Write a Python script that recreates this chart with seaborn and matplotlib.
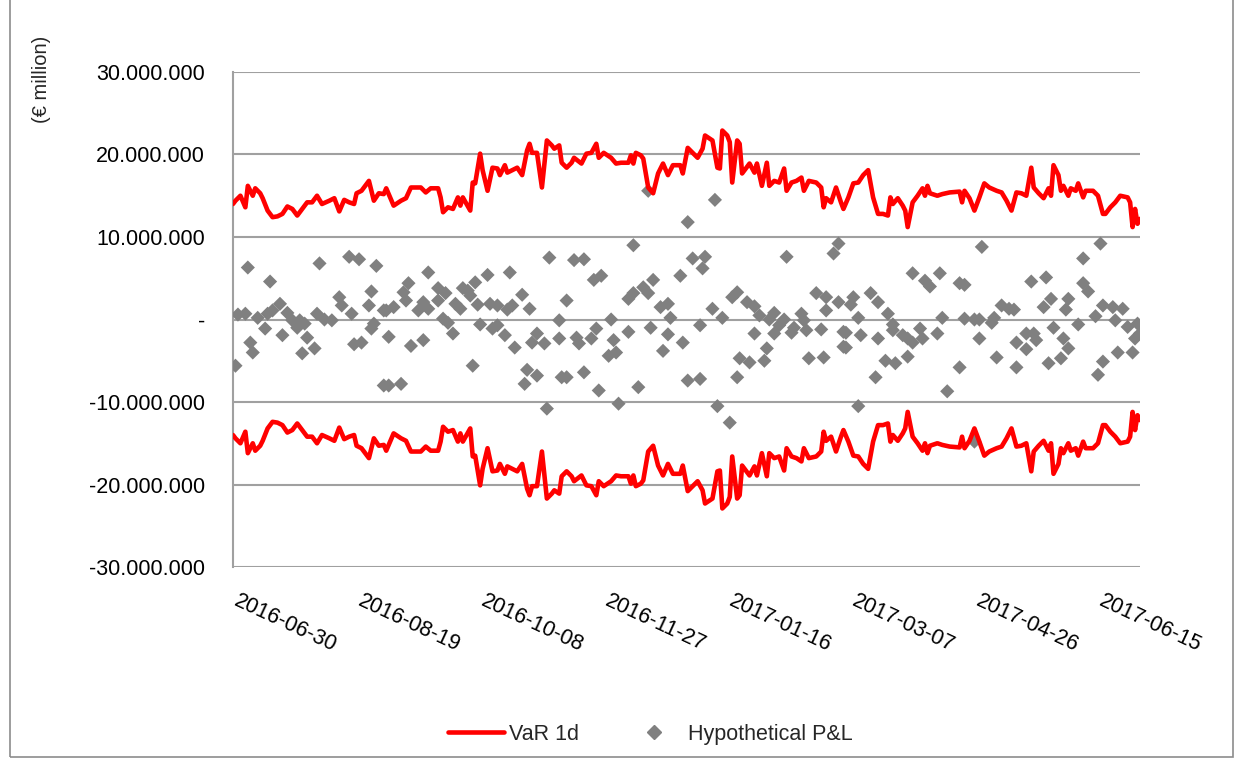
import pandas as pd
import matplotlib
matplotlib.use('Agg')
import matplotlib.pyplot as plt
import seaborn as sns
from matplotlib.lines import Line2D
from matplotlib.patches import Rectangle
from matplotlib.ticker import FuncFormatter
from matplotlib.transforms import ScaledTranslation

# VaR 1d (EUR million), day offsets from 2016-06-30
var_days = [0, 1, 3, 5, 6, 8, 9, 11, 12, 14, 16, 18, 20, 22, 24, 26, 28, 30, 32, 34,
            36, 39, 41, 43, 45, 47, 49, 50, 52, 55, 57, 59, 61, 62, 65, 68, 70, 72, 76, 78,
            80, 83, 84, 85, 87, 89, 91, 92, 93, 96, 97, 98, 100, 101, 103, 105, 107, 108, 110, 111,
            113, 115, 117, 119, 120, 121, 123, 125, 127, 129, 130, 132, 133, 135, 137, 138, 141, 143, 145, 147,
            148, 150, 153, 155, 157, 160, 161, 162, 163, 165, 166, 168, 170, 172, 174, 176, 178, 181, 182, 184,
            186, 188, 190, 191, 194, 196, 197, 198, 200, 201, 202, 204, 205, 206, 209, 211, 212, 214, 216, 217,
            219, 221, 223, 224, 226, 228, 230, 231, 233, 236, 238, 239, 240, 242, 244, 246, 247, 249, 251, 253,
            255, 257, 259, 261, 263, 265, 266, 267, 269, 271, 272, 273, 275, 277, 279, 280, 281, 282, 285, 287,
            290, 294, 295, 296, 298, 300, 302, 304, 306, 309, 311, 313, 315, 317, 319, 321, 323, 324, 326, 328,
            330, 331, 332, 334, 335, 336, 338, 339, 341, 342, 344, 345, 348, 350, 352, 353, 355, 357, 359, 362,
            363, 364, 365, 366, 367]
var_values = [14.0, 14.4, 15.0, 13.6, 16.2, 15.0, 15.9, 15.3, 14.7, 13.2, 12.4, 12.5, 12.8, 13.7, 13.4, 12.6, 13.4, 14.2, 14.2, 15.0,
              14.0, 14.4, 14.7, 13.1, 14.5, 14.2, 14.0, 15.3, 15.6, 16.8, 14.4, 15.3, 15.2, 15.9, 13.8, 14.4, 14.7, 16.0, 16.0, 15.4,
              15.9, 15.9, 14.8, 13.0, 13.6, 13.4, 14.8, 13.8, 14.8, 13.2, 16.6, 16.5, 20.1, 18.1, 15.6, 18.4, 18.3, 17.5, 18.7, 17.8,
              18.1, 18.4, 17.5, 20.5, 21.3, 20.2, 20.2, 16.0, 21.7, 21.1, 20.7, 21.1, 19.0, 18.4, 19.0, 19.6, 18.9, 20.1, 20.2, 21.3,
              19.6, 20.2, 19.6, 18.9, 19.0, 19.0, 19.9, 18.9, 20.2, 19.9, 19.5, 16.0, 15.3, 17.7, 18.9, 17.5, 18.7, 18.7, 17.7, 20.8,
              20.2, 19.6, 20.7, 22.3, 21.7, 18.4, 18.3, 22.9, 22.3, 21.5, 16.6, 21.7, 21.3, 17.7, 18.9, 17.8, 18.9, 16.2, 19.0, 16.2,
              16.8, 16.6, 18.3, 15.6, 16.6, 16.8, 17.2, 15.6, 16.8, 16.6, 16.0, 13.6, 14.7, 14.2, 16.0, 14.2, 13.4, 14.8, 16.5, 16.6,
              17.5, 18.1, 14.8, 12.8, 12.8, 12.6, 14.8, 14.0, 14.7, 13.8, 13.2, 11.2, 14.2, 15.0, 15.9, 15.0, 16.2, 15.3, 15.0, 15.2,
              15.4, 15.5, 14.2, 15.6, 14.7, 13.2, 14.8, 16.5, 16.0, 15.6, 15.4, 14.4, 13.2, 15.4, 15.3, 15.0, 18.4, 16.0, 15.3, 14.7,
              15.9, 15.0, 18.7, 17.5, 15.6, 16.2, 15.0, 15.9, 15.6, 16.5, 14.8, 15.6, 15.6, 15.0, 12.8, 12.8, 13.6, 14.2, 15.0, 14.8,
              14.2, 11.2, 13.4, 11.6, 12.2]

# Hypothetical P&L (EUR million), day offsets from 2016-06-30
pl_days = [1, 2, 5, 6, 7, 8, 10, 13, 14, 15, 16, 19, 20, 22, 24, 26, 27, 28, 29, 30,
           33, 34, 35, 37, 40, 43, 44, 47, 48, 49, 51, 52, 55, 56, 56, 57, 58, 61, 61, 62,
           63, 63, 65, 68, 69, 70, 71, 72, 75, 77, 77, 79, 79, 83, 83, 85, 86, 87, 89, 90,
           92, 93, 95, 96, 97, 98, 99, 100, 103, 104, 105, 107, 107, 110, 111, 112, 113, 114, 117, 118,
           119, 120, 121, 123, 123, 126, 127, 128, 132, 132, 133, 135, 135, 138, 139, 140, 142, 142, 145, 146,
           147, 148, 149, 152, 153, 154, 155, 156, 160, 160, 162, 162, 164, 166, 168, 168, 169, 170, 173, 174,
           176, 176, 177, 181, 182, 184, 184, 186, 189, 189, 190, 191, 194, 195, 196, 198, 201, 202, 204, 204,
           205, 208, 209, 211, 211, 213, 215, 216, 217, 219, 219, 221, 223, 224, 226, 227, 230, 231, 232, 233,
           236, 238, 239, 240, 240, 243, 245, 245, 247, 247, 248, 248, 250, 251, 253, 253, 254, 258, 260, 261,
           261, 264, 265, 267, 267, 268, 271, 273, 273, 275, 275, 278, 279, 280, 282, 285, 286, 287, 289, 294,
           294, 296, 296, 300, 300, 302, 302, 303, 307, 308, 309, 311, 314, 316, 317, 317, 321, 321, 323, 324,
           325, 328, 329, 330, 331, 332, 335, 336, 337, 338, 338, 342, 344, 344, 346, 349, 350, 351, 352, 352,
           356, 357, 358, 360, 362, 364, 365, 366, 367]
pl_values = [-5.6, 0.6, 0.7, 6.3, -2.8, -4.0, 0.2, -1.1, 0.7, 4.6, 1.1, 1.9, -1.9, 0.8, -0.1, -1.0, -0.1, -4.1, -0.5, -2.2,
             -3.5, 0.7, 6.8, 0.0, -0.1, 2.7, 1.7, 7.6, 0.7, -3.0, 7.3, -2.8, 1.7, 3.4, -1.1, -0.5, 6.5, 1.1, -8.0, 1.1,
             -2.1, -8.0, 1.5, -7.8, 3.3, 2.3, 4.4, -3.2, 1.1, 2.1, -2.5, 5.7, 1.3, 3.8, 2.3, 0.1, 3.2, -0.4, -1.7, 1.9,
             1.3, 3.8, 3.5, 2.9, -5.6, 4.5, 1.8, -0.6, 5.4, 1.9, -1.1, 1.7, -0.7, -1.9, 1.2, 5.7, 1.7, -3.4, 3.0, -7.8,
             -6.1, 1.3, -2.8, -6.8, -1.7, -2.9, -10.8, 7.5, -2.3, -0.1, -7.0, -7.0, 2.3, 7.2, -2.2, -2.9, 7.3, -6.4, -2.3, 4.8,
             -1.1, -8.6, 5.3, -4.4, 0.0, -2.5, -4.0, -10.2, -1.5, 2.5, 3.2, 9.0, -8.2, 3.9, 3.2, 15.6, -1.0, 4.8, 1.5, -3.8,
             -1.8, 1.9, 0.2, 5.3, -2.8, -7.4, 11.8, 7.4, -7.2, -0.7, 6.2, 7.6, 1.3, 14.5, -10.5, 0.2, -12.5, 2.7, 3.3, -7.0,
             -4.7, 2.1, -5.2, -1.7, 1.6, 0.5, -5.0, -3.5, 0.0, 0.8, -1.7, -0.7, 0.0, 7.6, -1.6, -1.0, 0.7, -0.1, -1.3, -4.7,
             3.2, -1.2, -4.6, 2.7, 1.1, 8.0, 9.2, 2.1, -3.3, -1.5, -1.6, -3.4, 1.8, 2.7, 0.2, -10.5, -1.9, 3.2, -7.0, 2.1,
             -2.3, -5.0, 0.7, -1.3, -0.6, -5.3, -1.9, -2.3, -4.5, -2.8, 5.6, -1.1, -2.3, 4.7, 4.0, -1.7, 5.6, 0.2, -8.7, -5.8,
             4.4, 4.2, 0.1, 0.0, -14.8, 0.0, -2.3, 8.8, -0.4, 0.2, -4.6, 1.7, 1.3, 1.2, -5.8, -2.8, -1.7, -3.6, 4.6, -1.7,
             -2.5, 1.5, 5.1, -5.3, 2.5, -1.0, -4.7, -2.3, 1.2, -3.5, 2.5, -0.6, 7.4, 4.4, 3.4, 0.4, -6.7, 9.2, -5.1, 1.7,
             1.5, -0.1, -4.0, 1.3, -0.9, -4.0, -2.3, -0.5, -1.7]

start = pd.Timestamp('2016-06-30')
tick_dates = pd.date_range(start, periods=8, freq='50D')
y_ticks = [-30e6, -20e6, -10e6, 0, 10e6, 20e6, 30e6]

var_df = pd.DataFrame({'date': start + pd.to_timedelta(var_days, unit='D'),
                       'var': [v * 1e6 for v in var_values]})
var_df['neg'] = -var_df['var']
pl_df = pd.DataFrame({'date': start + pd.to_timedelta(pl_days, unit='D'),
                      'pl': [v * 1e6 for v in pl_values]})

sns.set_style('white')
plt.rcParams['font.family'] = ['Liberation Sans', 'DejaVu Sans']

fig = plt.figure(figsize=(12.44, 7.6), dpi=100)
ax = fig.add_axes([0.1873, 0.2539, 0.7291, 0.6514])

red = '#FF0000'
grey = '#808080'

sns.scatterplot(data=pl_df, x='date', y='pl', ax=ax, marker='D', s=52,
                color=grey, edgecolor='none', zorder=3, legend=False)
sns.lineplot(data=var_df, x='date', y='var', ax=ax, color=red, linewidth=3.3, zorder=4)
sns.lineplot(data=var_df, x='date', y='neg', ax=ax, color=red, linewidth=3.3, zorder=4)

ax.set_xlim(start, start + pd.Timedelta(days=367))
ax.set_ylim(-30e6, 30e6)
ax.set_yticks(y_ticks)
ax.yaxis.set_major_formatter(FuncFormatter(
    lambda v, p: '-' if v == 0 else f"{int(round(v)):,}".replace(',', '.')))
ax.set_xticks(tick_dates)
ax.set_xticklabels([d.strftime('%Y-%m-%d') for d in tick_dates],
                   rotation=-25, ha='left', va='top', rotation_mode='anchor')
ax.tick_params(axis='y', length=0, pad=20, labelsize=15.5, labelcolor='#000000')
ax.tick_params(axis='x', length=0, pad=17, labelsize=15.5, labelcolor='#000000')
shift = ScaledTranslation(5 / 72, 0, fig.dpi_scale_trans)
for lab in ax.get_xticklabels():
    lab.set_transform(lab.get_transform() + shift)
ax.set_xlabel('')
ax.set_ylabel('')

ax.grid(axis='y', color='#A0A0A0', linewidth=1.5)
ax.grid(axis='x', visible=False)
for side in ['top', 'right', 'bottom']:
    ax.spines[side].set_visible(False)
ax.spines['left'].set_color('#A0A0A0')
ax.spines['left'].set_linewidth(1.5)

fig.text(0.033, 0.895, '(€ million)', rotation=90, ha='center', va='center', fontsize=14.5)

handles = [Line2D([], [], color=red, linewidth=3.3),
           Line2D([], [], color=grey, marker='D', markersize=7, linestyle='none')]
fig.legend(handles, ['VaR 1d', 'Hypothetical P&L'], loc='center', bbox_to_anchor=(0.5225, 0.034),
           ncol=2, frameon=False, fontsize=15.5, handlelength=2.6, columnspacing=2.2, handletextpad=0.25)

fig.patches.append(Rectangle((10 / 1244, 3 / 760), 1223 / 1244, 1.0, transform=fig.transFigure,
                             fill=False, edgecolor='#8C8C8C', linewidth=1.2))

plt.savefig('out.png', dpi=100)
plt.close()
